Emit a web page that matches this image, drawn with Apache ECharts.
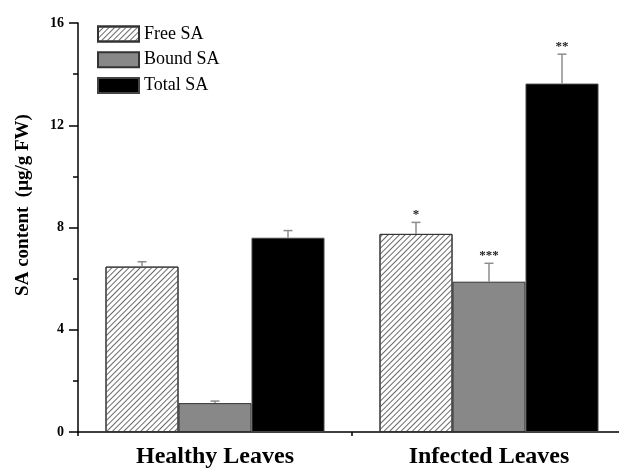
<!DOCTYPE html>
<html>
<head>
<meta charset="utf-8">
<title>SA content</title>
<script src="https://cdn.jsdelivr.net/npm/echarts@6/dist/echarts.min.js"></script>
<style>
  html, body { margin: 0; padding: 0; background: #fff; }
  #chart { width: 619px; height: 468px; }
</style>
</head>
<body>
<div id="chart"></div>
<script>
// Leaf groups on the x axis
const categories = ['Healthy Leaves', 'Infected Leaves'];

// Mean SA content (µg/g FW) per leaf group
const freeSA  = [6.47, 7.75];
const boundSA = [1.13, 5.88];
const totalSA = [7.60, 13.63];

// Standard errors (upper bars only)
const freeErr  = [0.19, 0.45];
const boundErr = [0.08, 0.72];
const totalErr = [0.28, 1.15];

// Significance marks drawn above the error bars
const freeSig  = ['', '*'];
const boundSig = ['', '***'];
const totalSig = ['', '**'];

// Y axis ticks
const yTicks = [0, 4, 8, 12, 16];

const SERIF = "'Liberation Serif', 'Times New Roman', serif";
const BAR_W = 73;

const seriesDefs = [
  { name: 'Free SA',  values: freeSA,  errs: freeErr,  sig: freeSig },
  { name: 'Bound SA', values: boundSA, errs: boundErr, sig: boundSig },
  { name: 'Total SA', values: totalSA, errs: totalErr, sig: totalSig }
];

const barStyles = [
  {
    color: '#ffffff', borderColor: '#333333', borderWidth: 1,
    decal: { symbol: 'rect', symbolSize: 1, dashArrayX: [1, 0], dashArrayY: [1, 3],
             rotation: -Math.PI / 4, color: '#6a6a6a' }
  },
  { color: '#888888', borderColor: '#333333', borderWidth: 1 },
  { color: '#000000', borderColor: '#444444', borderWidth: 1 }
];

const barSeries = seriesDefs.map((s, i) => ({
  name: s.name,
  type: 'bar',
  barWidth: BAR_W,
  barGap: '0%',
  data: s.values,
  itemStyle: barStyles[i],
  emphasis: { disabled: true },
  z: 2
}));

// Error-bar rows: [category index, mean, error, slot in group, significance text]
const errRows = [];
seriesDefs.forEach((s, slot) => {
  s.values.forEach((v, c) => errRows.push([c, v, s.errs[c], slot, s.sig[c]]));
});

function renderErrorBar(params, api) {
  const c = api.value(0), v = api.value(1), e = api.value(2), slot = api.value(3);
  const sig = errRows[params.dataIndex][4];
  const base = api.coord([c, v]);
  const top = api.coord([c, v + e]);
  const x = base[0] + (slot - 1) * BAR_W;
  const capHalf = 4.5;
  const style = { stroke: '#8c8c8c', lineWidth: 1.5 };
  const children = [
    { type: 'line', shape: { x1: x, y1: base[1], x2: x, y2: top[1] }, style: style },
    { type: 'line', shape: { x1: x - capHalf, y1: top[1], x2: x + capHalf, y2: top[1] }, style: style }
  ];
  if (sig) {
    children.push({
      type: 'text',
      style: {
        text: sig, x: x, y: top[1] - 1, align: 'center', verticalAlign: 'bottom',
        font: 'bold 13px ' + SERIF, fill: '#222'
      }
    });
  }
  return { type: 'group', children: children };
}

const chart = echarts.init(document.getElementById('chart'), null, { renderer: 'canvas' });

chart.setOption({
  animation: false,
  backgroundColor: '#ffffff',
  grid: { left: 78, width: 548, top: 23, bottom: 36, outerBoundsMode: 'none', containLabel: false },
  legend: {
    orient: 'vertical',
    left: 92,
    top: 20,
    icon: 'rect',
    itemWidth: 41,
    itemHeight: 15,
    itemGap: 7.7,
    data: seriesDefs.map(s => s.name),
    textStyle: { fontFamily: SERIF, fontSize: 18, color: '#000' },
    selectedMode: false
  },
  xAxis: [
    {
      type: 'category',
      data: categories,
      position: 'bottom',
      axisLine: { lineStyle: { color: '#000', width: 1.5 } },
      axisTick: { alignWithLabel: true, length: 8, lineStyle: { color: '#000', width: 1.5 } },
      axisLabel: { fontFamily: SERIF, fontWeight: 'bold', fontSize: 24, color: '#000', margin: 13 }
    },
    {
      // short ticks on the group boundaries
      type: 'category',
      data: categories,
      position: 'bottom',
      axisLine: { show: true, lineStyle: { color: '#000', width: 1.5, opacity: 0 } },
      axisTick: { show: true, alignWithLabel: false, length: 4, lineStyle: { color: '#000', width: 1.5 } },
      axisLabel: { show: false },
      splitLine: { show: false }
    }
  ],
  yAxis: {
    type: 'value',
    min: yTicks[0],
    max: yTicks[yTicks.length - 1],
    interval: yTicks[1] - yTicks[0],
    axisLine: { show: true, lineStyle: { color: '#000', width: 1.5 } },
    axisTick: { show: true, length: 9, lineStyle: { color: '#000', width: 1.5 } },
    minorTick: { show: true, splitNumber: 2, length: 5, lineStyle: { color: '#000', width: 1.5 } },
    splitLine: { show: false },
    axisLabel: { fontFamily: SERIF, fontWeight: 'bold', fontSize: 14, color: '#000', margin: 14 }
  },
  graphic: [
    {
      type: 'text',
      x: 23,
      y: 205,
      rotation: Math.PI / 2,
      style: {
        text: 'SA content  (μg/g FW)',
        font: 'bold 19px ' + SERIF,
        fill: '#000',
        align: 'center',
        verticalAlign: 'middle'
      }
    }
  ],
  series: barSeries.concat([
    {
      name: 'errors',
      type: 'custom',
      renderItem: renderErrorBar,
      data: errRows.map(r => r.slice(0, 4)),
      encode: { x: 0, y: 1 },
      z: 3,
      silent: true
    }
  ])
});
</script>
</body>
</html>
